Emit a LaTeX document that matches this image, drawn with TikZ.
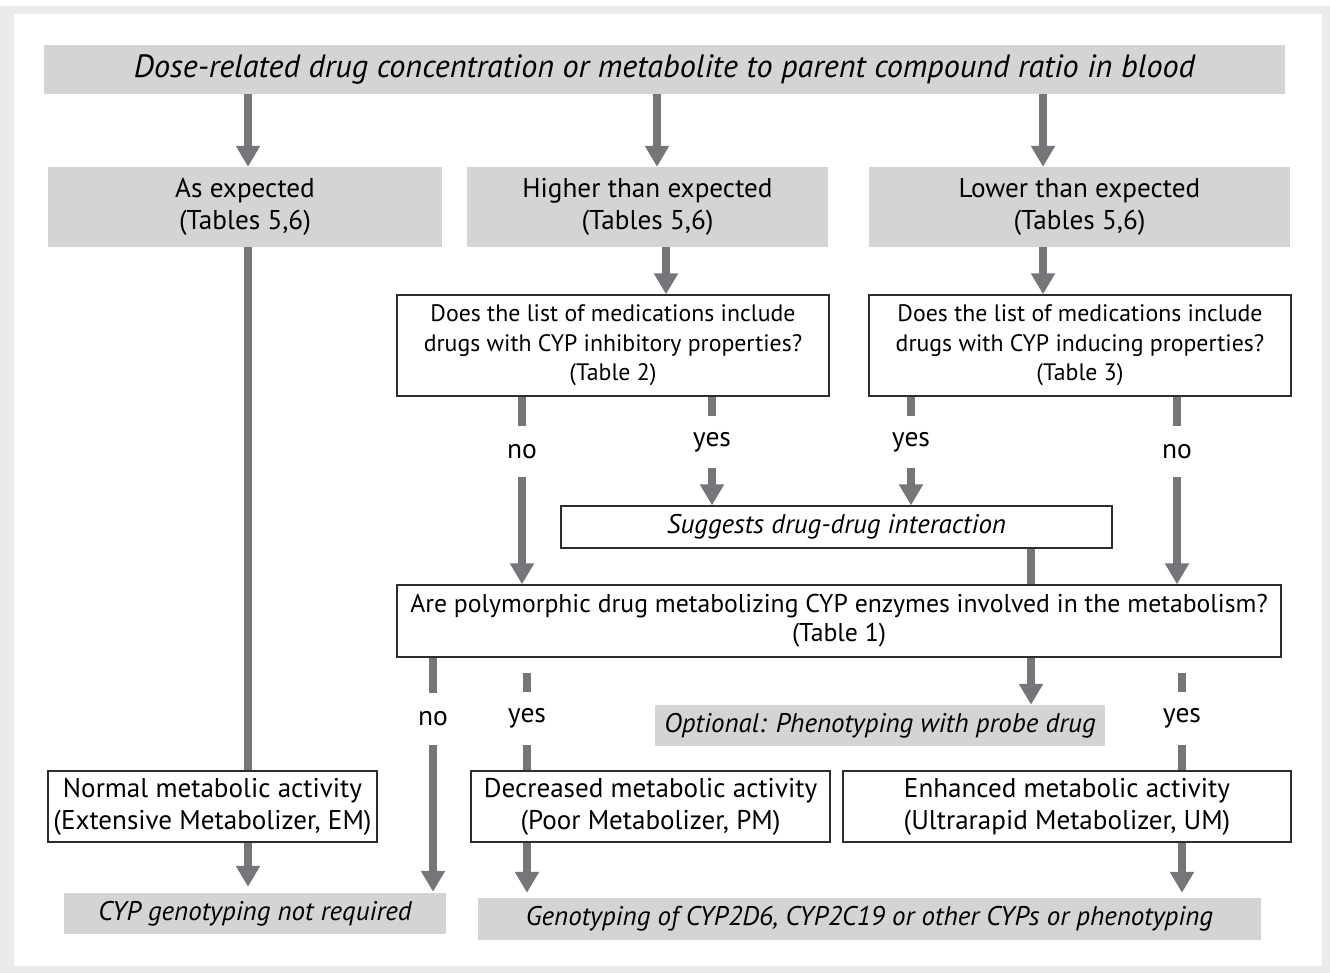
\documentclass[tikz,border=0pt]{standalone}
\usepackage{fontspec}
\setmainfont{PT Sans}
\usetikzlibrary{arrows.meta}
\definecolor{boxgray}{RGB}{212,212,214}
\definecolor{arrowgray}{RGB}{118,118,122}
\definecolor{framegray}{RGB}{234,234,234}
\definecolor{bordergray}{RGB}{45,45,45}
\begin{document}
\begin{tikzpicture}[x=1pt,y=-1pt,
  graybox/.style={fill=boxgray, draw=none, inner sep=0pt, align=center, font=\fontsize{27.2}{32}\selectfont},
  whitebox/.style={draw=bordergray, line width=1.4pt, fill=white, inner sep=0pt, align=center, font=\fontsize{27.1}{32}\selectfont},
  qbox/.style={whitebox, font=\fontsize{23.8}{29.5}\selectfont},
  itbox/.style={font=\fontsize{27}{30}\selectfont\itshape},
  arr/.style={draw=arrowgray, line width=7.5pt, -{Triangle[width=23pt,length=21pt]}},
  seg/.style={draw=arrowgray, line width=7.5pt},
  lab/.style={inner sep=0pt, minimum width=40pt, font=\fontsize{27.5}{30}\selectfont}
]
\useasboundingbox (0,0) rectangle (1330,973);
\fill[framegray] (0,6) rectangle (1330,973);
\fill[white] (14,14) rectangle (1322,966);

% columns
\coordinate (c248) at (248,0);
\coordinate (c657) at (657,0);
\coordinate (c666) at (666,0);
\coordinate (c1043) at (1043,0);
\coordinate (c1031) at (1031,0);

% nodes
\node[graybox, minimum width=1241pt, minimum height=49pt, font=\fontsize{32.2}{34}\selectfont\itshape] (title) at (664.5,69.5) {Dose-related drug concentration or metabolite to parent compound ratio in blood};

\node[graybox, minimum width=394pt, minimum height=80pt] (as) at (245,207) {As expected\\(Tables 5,6)};
\node[graybox, minimum width=361pt, minimum height=80pt] (higher) at (647.5,207) {Higher than expected\\(Tables 5,6)};
\node[graybox, minimum width=421pt, minimum height=80pt] (lower) at (1079.5,207) {Lower than expected\\(Tables 5,6)};

\node[qbox, minimum width=432pt, minimum height=101pt] (inhib) at (613,345.5) {Does the list of medications include\\drugs with CYP inhibitory properties?\\(Table 2)};
\node[qbox, minimum width=422pt, minimum height=101pt] (induc) at (1080,345.5) {Does the list of medications include\\drugs with CYP inducing properties?\\(Table 3)};

\node[whitebox, itbox, minimum width=551pt, minimum height=42pt] (sugg) at (836.5,527) {Suggests drug-drug interaction};

\node[whitebox, minimum width=884pt, minimum height=72pt, font=\fontsize{25.7}{29}\selectfont] (are) at (839,621) {Are polymorphic drug metabolizing CYP enzymes involved in the metabolism?\\(Table 1)};

\node[graybox, itbox, minimum width=450pt, minimum height=41pt] (opt) at (880,725.5) {Optional: Phenotyping with probe drug};

\node[whitebox, minimum width=329pt, minimum height=71pt] (normal) at (212.5,806.5) {Normal metabolic activity\\(Extensive Metabolizer, EM)};
\node[whitebox, minimum width=359pt, minimum height=71pt] (decr) at (650.5,806.5) {Decreased metabolic activity\\(Poor Metabolizer, PM)};
\node[whitebox, minimum width=448pt, minimum height=71pt] (enh) at (1067,806.5) {Enhanced metabolic activity\\(Ultrarapid Metabolizer, UM)};

\node[graybox, itbox, minimum width=382pt, minimum height=41pt] (notreq) at (255,913.5) {CYP genotyping not required};
\node[graybox, itbox, minimum width=783pt, minimum height=42pt] (geno) at (869.5,919) {Genotyping of CYP2D6, CYP2C19 or other CYPs or phenotyping};

% labels
\node[lab, minimum height=51pt] (no1) at (522,451.5) {no};
\node[lab, minimum height=52pt] (yes1) at (712,442) {yes};
\node[lab, minimum height=52pt] (yes2) at (911,442) {yes};
\node[lab, minimum height=51pt] (no2) at (1177,451.5) {no};
\node[lab, minimum height=52pt] (no3) at (433,719) {no};
\node[lab, minimum height=53pt] (yes3) at (527,718.5) {yes};
\node[lab, minimum height=53pt] (yes4) at (1182,718.5) {yes};

% connectors
\draw[arr] (title.south -| c248) -- (as.north -| c248);
\draw[arr] (title.south -| c657) -- (higher.north -| c657);
\draw[arr] (title.south -| c1043) -- (lower.north -| c1043);

\draw[seg] (as.south -| c248) -- (normal.north -| c248);
\draw[arr] (higher.south -| c666) -- (inhib.north -| c666);
\draw[arr] (lower.south -| c1043) -- (induc.north -| c1043);

\draw[seg] (inhib.south -| no1) -- (no1.north);
\draw[arr] (no1.south) -- (are.north -| no1);
\draw[seg] (inhib.south -| yes1) -- (yes1.north);
\draw[arr] (yes1.south) -- (sugg.north -| yes1);
\draw[seg] (induc.south -| yes2) -- (yes2.north);
\draw[arr] (yes2.south) -- (sugg.north -| yes2);
\draw[seg] (induc.south -| no2) -- (no2.north);
\draw[arr] (no2.south) -- (are.north -| no2);

\draw[seg] (sugg.south -| c1031) -- (are.north -| c1031);

\draw[seg] (are.south -| no3) -- (no3.north);
\draw[arr, shorten >=1pt] (no3.south) -- (notreq.north -| no3);
\draw[seg, shorten <=15pt] (are.south -| yes3) -- (yes3.north);
\draw[seg] (yes3.south) -- (decr.north -| yes3);
\draw[arr] (are.south -| c1031) -- (opt.north -| c1031);
\draw[seg, shorten <=15pt] (are.south -| yes4) -- (yes4.north);
\draw[seg] (yes4.south) -- (enh.north -| yes4);

\draw[arr, shorten >=6pt] (normal.south -| c248) -- (notreq.north -| c248);
\draw[arr, shorten >=5pt] (decr.south -| yes3) -- (geno.north -| yes3);
\draw[arr, shorten >=5pt] (enh.south -| yes4) -- (geno.north -| yes4);
\end{tikzpicture}
\end{document}
